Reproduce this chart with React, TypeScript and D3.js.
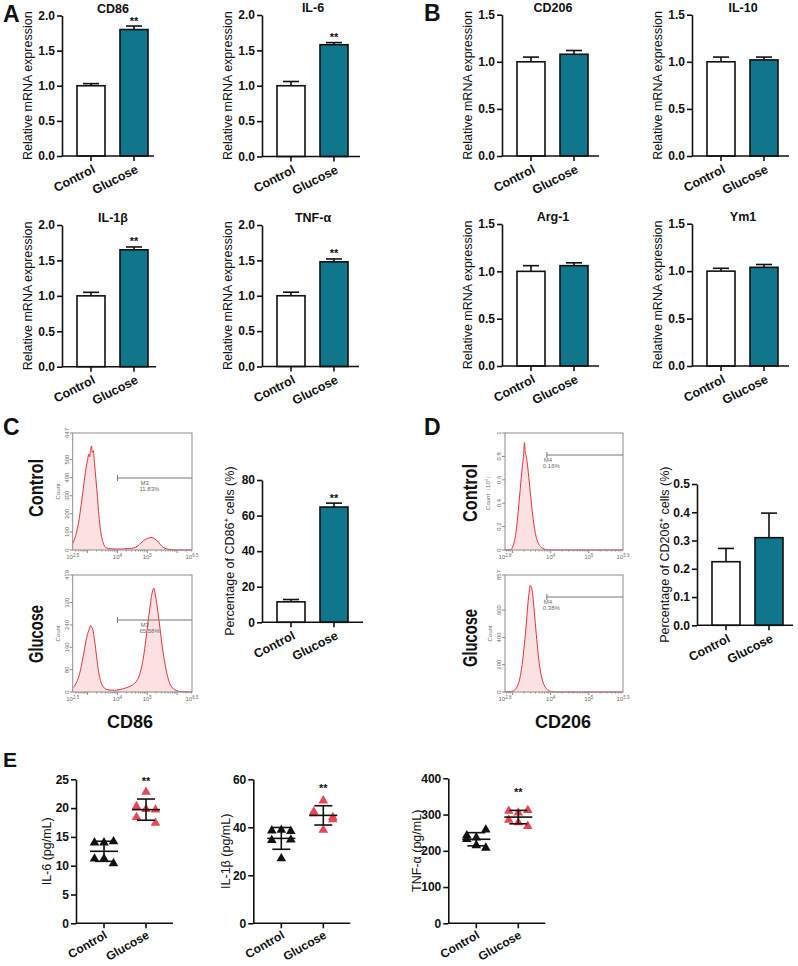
import React, { useEffect, useRef } from "react";
import * as d3 from "d3";

const FONT = "'Liberation Sans', Arial, Helvetica, sans-serif";
const TEAL = "#0f768c";
const RED = "#ec4452";
const INK = "#111";
const FLOW = "#6a6a6a";

const groups = ["Control", "Glucose"];

// A: M1 markers, relative mRNA, [Control, Glucose]
const m1Genes = ["CD86", "IL-6", "IL-1β", "TNF-α"];
const m1Mean = [[1.0, 1.8], [1.0, 1.58], [1.0, 1.65], [1.0, 1.48]];
const m1Err = [[0.03, 0.05], [0.06, 0.03], [0.05, 0.04], [0.05, 0.04]];

// B: M2 markers
const m2Genes = ["CD206", "IL-10", "Arg-1", "Ym1"];
const m2Mean = [[1.0, 1.08], [1.0, 1.02], [1.0, 1.06], [1.0, 1.04]];
const m2Err = [[0.05, 0.04], [0.05, 0.03], [0.06, 0.03], [0.03, 0.03]];

// C / D: percentage of positive cells
const cd86Pct = [11.5, 64.8];
const cd86PctErr = [1.3, 2.2];
const cd206Pct = [0.225, 0.31];
const cd206PctErr = [0.047, 0.087];

// flow histograms: [log10 intensity, count]
const cd86CtrlHist = [[2.5, 35], [2.55, 55], [2.6, 80], [2.66, 120], [2.72, 175], [2.78, 245], [2.84, 320], [2.9, 400], [2.95, 455], [3.0, 500], [3.04, 530], [3.07, 515], [3.1, 555], [3.13, 575], [3.16, 540], [3.19, 550], [3.23, 480], [3.28, 390], [3.33, 290], [3.38, 190], [3.43, 115], [3.48, 65], [3.54, 32], [3.6, 15], [3.7, 8], [3.85, 6], [4.0, 5], [4.2, 6], [4.4, 8], [4.55, 12], [4.68, 22], [4.78, 38], [4.88, 52], [4.97, 62], [5.05, 66], [5.12, 70], [5.18, 68], [5.24, 63], [5.3, 56], [5.38, 42], [5.46, 26], [5.55, 13], [5.65, 6], [5.8, 2], [6.0, 0], [6.5, 0]];
const cd86GluHist = [[2.5, 15], [2.58, 25], [2.66, 42], [2.74, 70], [2.82, 110], [2.89, 150], [2.95, 185], [3.01, 212], [3.06, 226], [3.1, 238], [3.14, 232], [3.18, 222], [3.22, 195], [3.27, 155], [3.32, 110], [3.38, 65], [3.45, 35], [3.53, 18], [3.62, 10], [3.75, 7], [3.9, 6], [4.05, 8], [4.2, 12], [4.35, 17], [4.5, 25], [4.62, 36], [4.72, 55], [4.8, 85], [4.88, 130], [4.95, 185], [5.02, 245], [5.08, 295], [5.13, 335], [5.18, 362], [5.22, 372], [5.26, 355], [5.3, 330], [5.36, 285], [5.43, 225], [5.5, 165], [5.58, 110], [5.66, 65], [5.75, 32], [5.85, 14], [5.98, 5], [6.15, 1], [6.5, 0]];
const cd206CtrlHist = [[2.8, 0], [2.95, 0.004], [3.0, 0.025], [3.05, 0.08], [3.1, 0.18], [3.15, 0.34], [3.2, 0.52], [3.25, 0.7], [3.29, 0.82], [3.31, 0.92], [3.33, 0.84], [3.36, 0.8], [3.4, 0.7], [3.45, 0.54], [3.5, 0.38], [3.55, 0.24], [3.6, 0.14], [3.66, 0.07], [3.73, 0.03], [3.82, 0.01], [3.95, 0], [5.9, 0]];
const cd206GluHist = [[2.8, 0], [2.95, 3], [3.05, 14], [3.12, 40], [3.19, 100], [3.25, 200], [3.31, 350], [3.36, 500], [3.4, 640], [3.44, 745], [3.46, 780], [3.49, 770], [3.52, 730], [3.56, 620], [3.61, 460], [3.66, 310], [3.71, 190], [3.77, 100], [3.84, 45], [3.92, 16], [4.02, 4], [4.15, 0], [5.9, 0]];
const gateNames = ["M3", "M3", "M4", "M4"];
const gatePct = ["11.83%", "65.58%", "0.16%", "0.38%"];

// E: ELISA, pg/mL, n = 6
const il6Ctrl = [14.0, 14.0, 14.2, 11.2, 11.2, 10.4];
const il6Glu = [20.3, 22.8, 19.7, 18.4, 19.8, 17.4];
const il1bCtrl = [38.6, 38.9, 38.4, 34.6, 27.0, 34.8];
const il1bGlu = [46.5, 51.1, 44.2, 45.8, 38.9, 43.3];
const tnfCtrl = [242, 236, 258, 232, 215, 208];
const tnfGlu = [310, 305, 312, 285, 278, 268];

const JITTER = [-1, 0, 1, -1, 0, 1];

function styleAxis(ax: any, size = 12) {
  ax.select(".domain").attr("stroke", INK).attr("stroke-width", 1.6);
  ax.selectAll(".tick line").attr("stroke", INK).attr("stroke-width", 1.6);
  ax.selectAll(".tick text").attr("font-family", FONT).attr("font-size", size)
    .attr("font-weight", "bold").attr("fill", INK);
}

function rotLabel(g: any, cx: number, cy: number, text: string, sup?: string, rest?: string, size = 12.5) {
  const t = g.append("text")
    .attr("transform", `translate(${cx},${cy}) rotate(-90)`)
    .attr("text-anchor", "middle").attr("dy", "0.35em")
    .attr("font-size", size).attr("fill", INK);
  t.append("tspan").text(text);
  if (sup) {
    t.append("tspan").attr("font-size", size * 0.65).attr("dy", -size * 0.4).text(sup);
    t.append("tspan").attr("dy", size * 0.4).text(rest);
  }
  return t;
}

function xAxis(g: any, x: any, x0: number, yBot: number, width: number, angle: number, dx: number, dy: number, size: number) {
  g.append("line").attr("x1", x0).attr("x2", x0 + width).attr("y1", yBot).attr("y2", yBot)
    .attr("stroke", INK).attr("stroke-width", 1.6);
  g.selectAll("line.xt").data(groups).join("line").attr("class", "xt")
    .attr("x1", (d: string) => x(d)).attr("x2", (d: string) => x(d))
    .attr("y1", yBot).attr("y2", yBot + 5).attr("stroke", INK).attr("stroke-width", 1.6);
  g.selectAll("text.xl").data(groups).join("text").attr("class", "xl")
    .attr("transform", (d: string) => `translate(${x(d) + dx},${yBot + dy}) rotate(${angle})`)
    .attr("text-anchor", "end").attr("font-size", size).attr("font-weight", "bold").attr("fill", INK)
    .text((d: string) => d);
}

function barPanel(root: any, c: any) {
  const g = root.append("g");
  const y = d3.scaleLinear().domain([0, c.max]).range([c.yBot, c.yTop]);
  const x = d3.scalePoint<string>().domain(groups).range([c.x0 + 29, c.x0 + 72]);
  const ax = g.append("g").attr("transform", `translate(${c.x0},0)`)
    .call(d3.axisLeft(y).tickValues(d3.range(0, c.max + c.step / 2, c.step))
      .tickFormat(d3.format(c.fmt) as any).tickSize(5).tickSizeOuter(0).tickPadding(2));
  styleAxis(ax);

  g.selectAll("line.eb").data(c.mean).join("line").attr("class", "eb")
    .attr("x1", (d: number, i: number) => x(groups[i])!).attr("x2", (d: number, i: number) => x(groups[i])!)
    .attr("y1", (d: number) => y(d)).attr("y2", (d: number, i: number) => y(d + c.err[i]))
    .attr("stroke", INK).attr("stroke-width", 1.6);
  g.selectAll("line.cap").data(c.mean).join("line").attr("class", "cap")
    .attr("x1", (d: number, i: number) => x(groups[i])! - 8).attr("x2", (d: number, i: number) => x(groups[i])! + 8)
    .attr("y1", (d: number, i: number) => y(d + c.err[i])).attr("y2", (d: number, i: number) => y(d + c.err[i]))
    .attr("stroke", INK).attr("stroke-width", 1.6);
  g.selectAll("rect.bar").data(c.mean).join("rect").attr("class", "bar")
    .attr("x", (d: number, i: number) => x(groups[i])! - 14).attr("width", 28)
    .attr("y", (d: number) => y(d)).attr("height", (d: number) => c.yBot - y(d))
    .attr("fill", (d: number, i: number) => (i ? TEAL : "#fff"))
    .attr("stroke", INK).attr("stroke-width", 1.6);

  xAxis(g, x, c.x0, c.yBot, c.width, -27, 5, 16, 12.5);

  if (c.title) {
    g.append("text").attr("x", c.x0 + 51).attr("y", c.yTop - 3).attr("text-anchor", "middle")
      .attr("font-size", 12.5).attr("font-weight", "bold").attr("fill", INK).text(c.title);
  }
  if (c.sig) {
    g.append("text").attr("x", x("Glucose")!).attr("y", y(c.mean[1] + c.err[1]) - 1.5)
      .attr("text-anchor", "middle").attr("font-size", 11).attr("font-weight", "bold").attr("fill", INK).text(c.sig);
  }
  rotLabel(g, c.x0 - c.labelDx, (c.yTop + c.yBot) / 2, c.label, c.sup, c.rest);
}

function histPanel(root: any, c: any) {
  const g = root.append("g").attr("fill", FLOW);
  const x = d3.scaleLinear().domain(c.logDomain).range([c.x0, c.x1]);
  const y = d3.scaleLinear().domain([0, c.cmax]).range([c.yBot, c.yTop]);

  const area = d3.area<number[]>().x(d => x(d[0])).y0(c.yBot).y1(d => y(d[1])).curve(d3.curveMonotoneX);
  const line = d3.line<number[]>().x(d => x(d[0])).y(d => y(d[1])).curve(d3.curveMonotoneX);
  g.append("path").datum(c.data).attr("d", area).attr("fill", "#fbe1e2");
  g.append("path").datum(c.data).attr("d", line).attr("fill", "none").attr("stroke", "#e4323f").attr("stroke-width", 1);

  g.append("rect").attr("x", c.x0).attr("y", c.yTop).attr("width", c.x1 - c.x0).attr("height", c.yBot - c.yTop)
    .attr("fill", "none").attr("stroke", "#8c8c8c").attr("stroke-width", 1);

  // y ticks
  g.selectAll("line.yt").data(c.cticks).join("line").attr("class", "yt")
    .attr("x1", c.x0 - 3).attr("x2", c.x0).attr("y1", (d: number) => y(d)).attr("y2", (d: number) => y(d))
    .attr("stroke", "#8c8c8c");
  g.selectAll("text.yl").data(c.cticks).join("text").attr("class", "yl")
    .attr("transform", (d: number) => `translate(${c.x0 - 4},${y(d)}) rotate(-90)`)
    .attr("text-anchor", "middle").attr("font-size", 6).text((d: number, i: number) => c.clabels[i]);

  // x ticks (log decades with minors)
  const minors: number[] = [];
  for (let n = Math.floor(c.logDomain[0]); n <= Math.ceil(c.logDomain[1]); n++) {
    for (let k = 1; k <= 9; k++) {
      const v = n + Math.log10(k);
      if (v >= c.logDomain[0] && v <= c.logDomain[1]) minors.push(v);
    }
  }
  g.selectAll("line.xm").data(minors).join("line").attr("class", "xm")
    .attr("x1", (d: number) => x(d)).attr("x2", (d: number) => x(d))
    .attr("y1", c.yBot).attr("y2", (d: number) => c.yBot + (Number.isInteger(+d.toFixed(6)) ? 3 : 1.5))
    .attr("stroke", "#8c8c8c");
  const xl = g.selectAll("text.xl").data(c.xticks).join("text").attr("class", "xl")
    .attr("x", (d: number) => x(d)).attr("y", c.yBot + 9).attr("text-anchor", "middle").attr("font-size", 6);
  xl.append("tspan").text("10");
  xl.append("tspan").attr("font-size", 4.5).attr("dy", -2.5).text((d: number) => String(d));

  rotLabel(g, c.x0 - c.titleDx, (c.yTop + c.yBot) / 2, c.yTitle, c.ysup, c.yrest, 6).attr("fill", FLOW);

  // gate marker
  const gx = x(c.gate);
  g.append("line").attr("x1", gx).attr("x2", c.x1).attr("y1", c.gateY).attr("y2", c.gateY)
    .attr("stroke", "#777").attr("stroke-width", 1);
  g.append("line").attr("x1", gx).attr("x2", gx).attr("y1", c.gateY - 3).attr("y2", c.gateY + 3)
    .attr("stroke", "#777").attr("stroke-width", 1);
  g.append("text").attr("x", gx + c.gateDx).attr("y", c.gateY + 7).attr("font-size", 6).text(c.gateName);
  g.append("text").attr("x", gx + c.gateDx - 1).attr("y", c.gateY + 13).attr("font-size", 6).text(c.gatePct);
}

function dotPanel(root: any, c: any) {
  const g = root.append("g");
  const y = d3.scaleLinear().domain([0, c.max]).range([c.yBot, c.yTop]);
  const x = d3.scalePoint<string>().domain(groups).range([c.x0 + 28, c.x0 + 70]);
  const ax = g.append("g").attr("transform", `translate(${c.x0},0)`)
    .call(d3.axisLeft(y).tickValues(d3.range(0, c.max + c.step / 2, c.step))
      .tickSize(5).tickSizeOuter(0).tickPadding(2));
  styleAxis(ax);
  xAxis(g, x, c.x0, c.yBot, 97, -30, 4, 14, 12);

  const tri = d3.symbol().type(d3.symbolTriangle).size(40);
  const sets = [c.ctrl, c.glu];
  sets.forEach((vals: number[], gi: number) => {
    g.append("g").selectAll("path").data(vals).join("path")
      .attr("d", tri)
      .attr("transform", (d: number, i: number) => `translate(${x(groups[gi])! + JITTER[i] * 9.5},${y(d)})`)
      .attr("fill", gi ? RED : INK);
    const m = d3.mean(vals)!;
    const sd = d3.deviation(vals)!;
    const cx = x(groups[gi])!;
    const eg = g.append("g").attr("stroke", INK).attr("stroke-width", 1.6);
    eg.append("line").attr("x1", cx).attr("x2", cx).attr("y1", y(m - sd)).attr("y2", y(m + sd));
    eg.append("line").attr("x1", cx - 14).attr("x2", cx + 14).attr("y1", y(m)).attr("y2", y(m));
    [m - sd, m + sd].forEach(v => {
      eg.append("line").attr("x1", cx - 9).attr("x2", cx + 9).attr("y1", y(v)).attr("y2", y(v));
    });
    if (gi === 1) {
      g.append("text").attr("x", cx).attr("y", y(m + sd) - 14).attr("text-anchor", "middle")
        .attr("font-size", 11).attr("font-weight", "bold").attr("fill", INK).text("**");
    }
  });
  rotLabel(g, c.x0 - c.labelDx, (c.yTop + c.yBot) / 2, c.label);
}

export default function App() {
  const ref = useRef<SVGSVGElement>(null);

  useEffect(() => {
    const svg = d3.select(ref.current);
    svg.selectAll("*").remove();
    const root = svg.append("g").attr("font-family", FONT);

    // panel letters
    const letters: [string, number, number, number][] = [["A", 3, 22, 23], ["B", 424, 21, 23], ["C", 3, 435, 23], ["D", 424, 435, 23], ["E", 3, 767, 21]];
    letters.forEach(([t, x, y, s]) => {
      root.append("text").attr("x", x).attr("y", y).attr("font-size", s).attr("font-weight", "bold").attr("fill", INK).text(t);
    });

    // A
    const aPos = [[62, 15.5, 156, 92], [262, 15, 156.5, 98], [62, 225, 366.7, 94], [262, 225, 366.5, 97]];
    m1Genes.forEach((gene, i) => {
      const [x0, yTop, yBot, width] = aPos[i];
      barPanel(root, { x0, yTop, yBot, width, max: 2, step: 0.5, fmt: ".1f", mean: m1Mean[i], err: m1Err[i],
        title: gene, sig: "**", label: "Relative mRNA expression", labelDx: 34 });
    });
    // B
    const bPos = [[502, 14.7, 156, 97], [692, 14.7, 156, 97], [502, 224, 366, 97], [692, 223.7, 366, 97]];
    m2Genes.forEach((gene, i) => {
      const [x0, yTop, yBot, width] = bPos[i];
      barPanel(root, { x0, yTop, yBot, width, max: 1.5, step: 0.5, fmt: ".1f", mean: m2Mean[i], err: m2Err[i],
        title: gene, label: "Relative mRNA expression", labelDx: 34 });
    });

    // C histograms
    histPanel(root, { x0: 72.7, x1: 192, yTop: 433, yBot: 550, logDomain: [2.5, 6.5], cmax: 647,
      cticks: [0, 100, 200, 300, 400, 500, 647], clabels: ["0", "100", "200", "300", "400", "500", "647"],
      xticks: [2.5, 4, 5, 6.5], data: cd86CtrlHist, yTitle: "Count", titleDx: 15,
      gate: 4, gateY: 478, gateDx: 23, gateName: gateNames[0], gatePct: gatePct[0] });
    histPanel(root, { x0: 72.7, x1: 192, yTop: 575, yBot: 692, logDomain: [2.5, 6.5], cmax: 419,
      cticks: [0, 80, 160, 240, 320, 419], clabels: ["0", "80", "160", "240", "320", "419"],
      xticks: [2.5, 4, 5, 6.5], data: cd86GluHist, yTitle: "Count", titleDx: 15,
      gate: 4, gateY: 620, gateDx: 23, gateName: gateNames[1], gatePct: gatePct[1] });
    // D histograms
    histPanel(root, { x0: 505, x1: 623, yTop: 433, yBot: 550, logDomain: [2.8, 5.9], cmax: 1,
      cticks: [0, 0.2, 0.4, 0.6, 0.8, 1], clabels: ["0", "0.2", "0.4", "0.6", "0.8", "1"],
      xticks: [2.8, 4, 5, 5.9], data: cd206CtrlHist, yTitle: "Count（10", ysup: "3", yrest: "）", titleDx: 17,
      gate: 3.9, gateY: 455, gateDx: -3, gateName: gateNames[2], gatePct: gatePct[2] });
    histPanel(root, { x0: 505, x1: 623, yTop: 575, yBot: 692, logDomain: [2.8, 5.9], cmax: 857,
      cticks: [0, 200, 400, 600, 857], clabels: ["0", "200", "400", "600", "857"],
      xticks: [2.8, 4, 5, 5.9], data: cd206GluHist, yTitle: "Count", titleDx: 15,
      gate: 3.9, gateY: 597, gateDx: -3, gateName: gateNames[3], gatePct: gatePct[3] });

    // sample names beside histograms, marker names below
    const side: [string, number, number][] = [["Control", 43, 488], ["Glucose", 43, 634], ["Control", 477, 493], ["Glucose", 477, 638]];
    side.forEach(([t, x, y]) => {
      root.append("text").attr("transform", `translate(${x},${y}) rotate(-90)`).attr("text-anchor", "middle")
        .attr("font-size", 20).attr("font-weight", "bold").attr("fill", INK)
        .attr("textLength", 58).attr("lengthAdjust", "spacingAndGlyphs").text(t);
    });
    [["CD86", 130], ["CD206", 563]].forEach(([t, x]) => {
      root.append("text").attr("x", x).attr("y", 728).attr("text-anchor", "middle")
        .attr("font-size", 18).attr("font-weight", "bold").attr("fill", INK).text(t as string);
    });

    // C / D bar charts
    barPanel(root, { x0: 262, yTop: 480, yBot: 622.3, width: 101, max: 80, step: 20, fmt: "d", mean: cd86Pct, err: cd86PctErr,
      sig: "**", label: "Percentage of CD86", sup: "+", rest: " cells (%)", labelDx: 32 });
    barPanel(root, { x0: 697, yTop: 484, yBot: 625.3, width: 96, max: 0.5, step: 0.1, fmt: ".1f", mean: cd206Pct, err: cd206PctErr,
      label: "Percentage of CD206", sup: "+", rest: " cells (%)", labelDx: 32 });

    // E
    dotPanel(root, { x0: 76, yTop: 779.3, yBot: 923.3, max: 25, step: 5, ctrl: il6Ctrl, glu: il6Glu, label: "IL-6 (pg/mL)", labelDx: 29 });
    dotPanel(root, { x0: 253.3, yTop: 779.3, yBot: 923.3, max: 60, step: 20, ctrl: il1bCtrl, glu: il1bGlu, label: "IL-1β (pg/mL)", labelDx: 28 });
    dotPanel(root, { x0: 448.3, yTop: 778.3, yBot: 923.3, max: 400, step: 100, ctrl: tnfCtrl, glu: tnfGlu, label: "TNF-α (pg/mL)", labelDx: 32 });
  }, []);

  return (
    <svg ref={ref} width={798} height={966}
      style={{ position: "absolute", left: 0, top: 0, background: "#fff" }} />
  );
}
